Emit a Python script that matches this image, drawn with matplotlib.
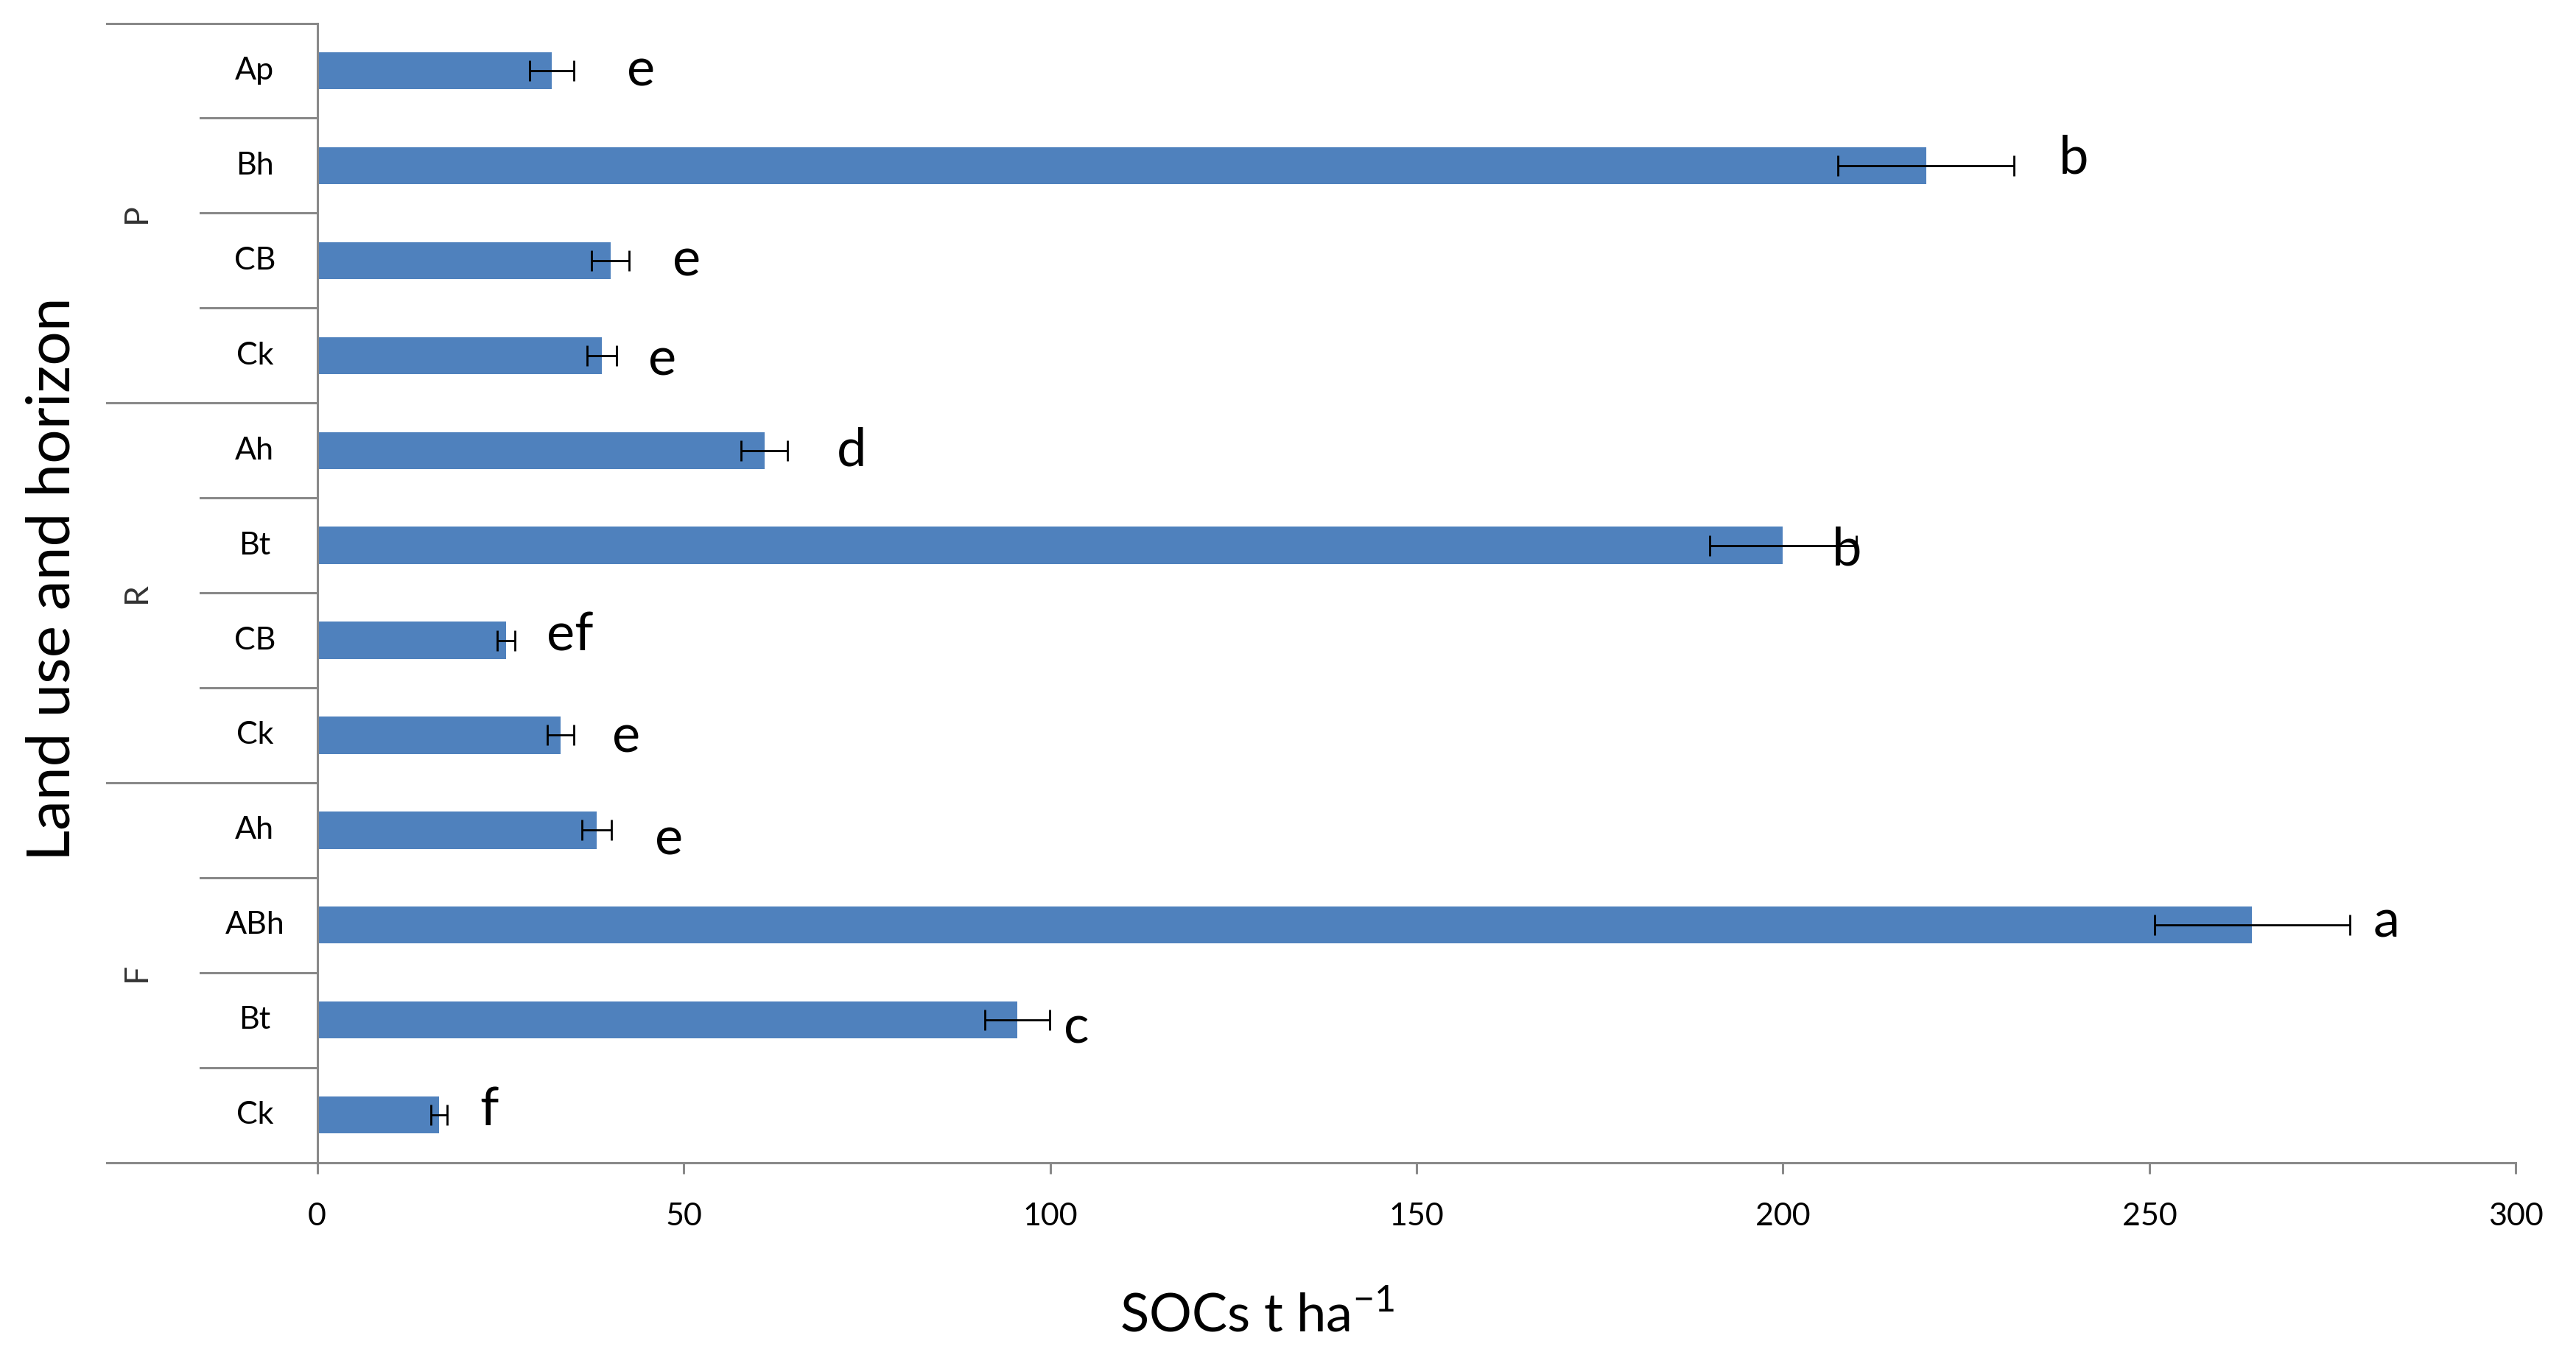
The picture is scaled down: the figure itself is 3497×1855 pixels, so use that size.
import matplotlib.pyplot as plt
import matplotlib.transforms as mtransforms

plt.rcParams['font.family'] = ['Lato', 'DejaVu Sans']

# Data (top to bottom)
groups = ['P', 'R', 'F']
group_sizes = [4, 4, 4]
horizons = ['Ap', 'Bh', 'CB', 'Ck', 'Ah', 'Bt', 'CB', 'Ck', 'Ah', 'ABh', 'Bt', 'Ck']
socs = [32.0, 219.5, 40.0, 38.8, 61.0, 200.0, 25.8, 33.2, 38.1, 264.0, 95.5, 16.6]
errors = [3.0, 12.0, 2.6, 2.0, 3.2, 10.0, 1.2, 1.8, 2.0, 13.3, 4.4, 1.1]
letters = ['e', 'b', 'e', 'e', 'd', 'b', 'ef', 'e', 'e', 'a', 'c', 'f']
# where the letters were placed by hand (x in data units, y shift in rows)
letter_x = [44.2, 239.7, 50.4, 47.1, 72.9, 208.7, 34.5, 42.2, 48.0, 282.3, 103.6, 23.5]
letter_dy = [0, -0.08, 0, 0.05, 0, 0.05, -0.05, 0.02, 0.1, -0.03, 0.08, -0.05]

bar_color = '#4F81BD'
axis_color = '#898989'

fig = plt.figure(figsize=(17.49, 9.275), dpi=200)
ax = fig.add_axes([0.1231, 0.149, 0.8533, 0.834])

ypos = list(range(len(horizons)))
ax.barh(ypos, socs, height=0.39, color=bar_color, zorder=2)
ax.errorbar(socs, ypos, xerr=errors, fmt='none', ecolor='black',
            elinewidth=1.0, capsize=5, capthick=1.0, zorder=3)

ax.set_xlim(0, 300)
ax.set_ylim(len(horizons) - 0.5, -0.5)
ax.set_xticks([0, 50, 100, 150, 200, 250, 300])
ax.tick_params(axis='x', direction='out', length=5.5, width=1.1,
               color=axis_color, labelsize=15.5, pad=14)
ax.set_yticks([])

for s in ['top', 'right']:
    ax.spines[s].set_visible(False)
for s in ['left', 'bottom']:
    ax.spines[s].set_color(axis_color)
    ax.spines[s].set_linewidth(1.1)

# Significance letters
for y, lx, dy, lt in zip(ypos, letter_x, letter_dy, letters):
    ax.text(lx, y + dy, lt, fontsize=26, ha='center', va='center', zorder=4)

# Category axis: horizon labels, separators and group labels
trans = mtransforms.blended_transform_factory(ax.transAxes, ax.transData)
for y, h in zip(ypos, horizons):
    ax.text(-0.0284, y, h, fontsize=15.5, ha='center', va='center',
            transform=trans, clip_on=False)

start = 0
long_lines = [-0.5]
for g, n in zip(groups, group_sizes):
    center = start + (n - 1) / 2
    ax.text(-0.082, center, g, fontsize=16, rotation=90, ha='center',
            va='center', color='#333333', transform=trans, clip_on=False)
    for k in range(1, n):
        ax.plot([-0.053, 0], [start + k - 0.5] * 2, color=axis_color,
                lw=1.1, transform=trans, clip_on=False)
    start += n
    long_lines.append(start - 0.5)

for yl in long_lines:
    ax.plot([-0.0957, 0], [yl, yl], color=axis_color, lw=1.1,
            transform=trans, clip_on=False)

fig.text(0.0205, 0.576, 'Land use and horizon', fontsize=29.5, rotation=90,
         ha='center', va='center')
fig.text(0.488, 0.037, r'SOCs t ha$^{\mathregular{-1}}$', fontsize=26,
         ha='center', va='center')

fig.savefig('out.png', dpi=200, facecolor='white')
